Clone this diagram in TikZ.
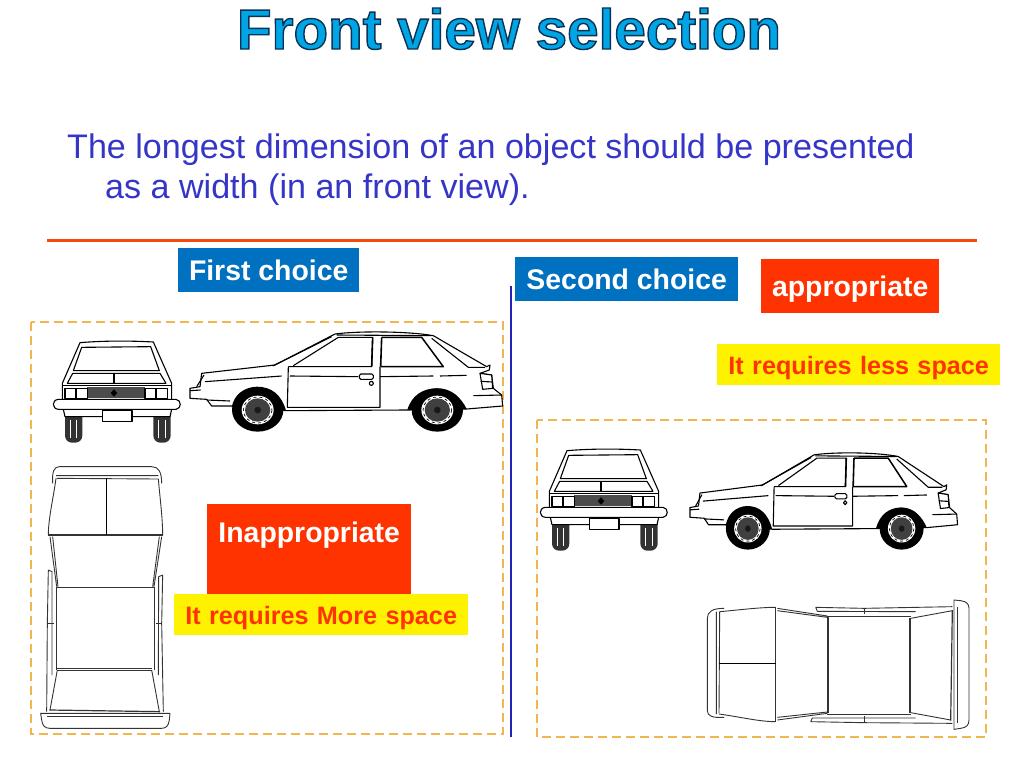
\documentclass[tikz,border=0pt]{standalone}
\usepackage{fontspec}
\setmainfont{Liberation Sans}
\definecolor{titleblue}{HTML}{00A5E6}
\definecolor{bodyblue}{HTML}{3535C8}
\definecolor{boxblue}{HTML}{0070C0}
\definecolor{boxred}{HTML}{FF3300}
\definecolor{ruleorange}{HTML}{F5480A}
\definecolor{dashorange}{HTML}{F2B552}
\definecolor{splitblue}{HTML}{2222B8}
\newcommand{\outlined}[1]{\special{pdf:code q 2 Tr 1.4 w 0.05 0.2 0.33 RG 0 0.647 0.9 rg}#1\special{pdf:code Q}}
\tikzset{
    carline/.style = {line width=1.1pt, black, line join=round},
    thinline/.style = {line width=0.7pt, black},
    topline/.style = {line width=0.9pt, black!80, line join=round},
    viewframe/.style = {draw=dashorange, line width=1.2pt, dash pattern=on 9pt off 5pt},
    bluebox/.style = {fill=boxblue, text=white, font=\fontsize{28.4}{28.4}\selectfont\bfseries, inner sep=0pt, anchor=north west},
    redbox/.style = {fill=boxred, text=white, font=\fontsize{28.4}{28.4}\selectfont\bfseries, inner sep=0pt, anchor=north west, align=center},
    yellowbox/.style = {fill=yellow, text=boxred, font=\fontsize{25.2}{25.2}\selectfont\bfseries, inner sep=0pt, anchor=north west, align=center},
    frontcar/.pic = {
        \fill [black!80, rounded corners=7pt] (105,270) rectangle (157,368) (370,270) rectangle (422,368);
        \draw [white, line width=0.4pt] (120,300) -- (120,355) (140,300) -- (140,355) (385,300) -- (385,355) (405,300) -- (405,355);
        \draw [carline, fill=white] (150,68) .. controls (220,62) and (300,62) .. (370,66) -- (425,190) -- (425,240) -- (97,240) -- (97,190) -- cycle;
        \draw [carline] (155,82) -- (362,80) -- (388,152) -- (130,152) -- cycle;
        \draw [carline] (112,190) -- (128,160) -- (390,160) -- (408,190) -- cycle;
        \draw [carline] (252,160) -- (252,190);
        \draw [carline] (97,196) -- (425,196);
        \fill [black!70] (172,202) rectangle (345,235);
        \fill [black] (252,208) -- (262,219) -- (252,230) -- (242,219) -- cycle;
        \draw [carline, fill=white] (105,205) rectangle (138,235) (140,205) rectangle (172,235);
        \draw [carline, fill=white] (345,205) rectangle (378,235) (380,205) rectangle (413,235);
        \draw [carline, fill=white] (100,268) -- (105,290) -- (420,290) -- (425,268);
        \draw [carline, fill=white] (85,238) -- (438,238) .. controls (455,240) and (455,266) .. (438,268) -- (85,268) .. controls (65,266) and (65,240) .. (85,238) -- cycle;
        \draw [carline, fill=white] (218,272) rectangle (306,304);
    },
    sidecar/.pic = {
        \draw [carline, fill=white] (480,205) -- (510,200) -- (515,160) -- (735,135) -- (915,42) .. controls (980,33) and (1130,33) .. (1210,47) -- (1370,140) -- (1380,135) -- (1378,150) -- (1350,160) -- (1385,165) -- (1390,205) -- (1415,225) -- (1418,258) -- (1310,267) -- (1132,270) -- (770,272) -- (605,258) -- (545,258) -- (530,238) -- (480,235) -- cycle;
        \fill [black] (605,262) .. controls (612,225) and (640,202) .. (680,200) .. controls (725,200) and (755,225) .. (768,272) -- cycle;
        \fill [black] (1132,270) .. controls (1145,225) and (1180,205) .. (1220,205) .. controls (1265,205) and (1295,235) .. (1310,267) -- cycle;
        \foreach \wheelx in {683,1222} {
            \fill [black] (\wheelx,270) ellipse (77 and 65);
            \fill [white] (\wheelx,270) ellipse (48 and 43);
            \fill [black!75] (\wheelx,270) ellipse (38 and 35);
            \draw [thinline, dashed] (\wheelx,270) ellipse (43 and 39);
            \fill [black!90] (\wheelx,270) circle (10);
        }
        \draw [carline] (728,138) -- (905,50) (790,137) -- (925,52) -- (1028,52) -- (1025,140) -- (775,140);
        \draw [carline, line width=1.6pt] (1028,52) -- (1025,140) (1055,52) -- (1052,140);
        \draw [carline, line width=1.5pt] (1055,52) -- (1175,52) -- (1240,140) -- (1052,140);
        \draw [carline] (920,45) -- (1205,47);
        \draw [carline] (1205,55) -- (1315,142) -- (1365,142);
        \draw [carline] (775,140) -- (772,262) -- (1050,262) -- (1050,140);
        \draw [carline] (525,185) -- (755,168) (780,168) -- (985,170) (1050,170) -- (1210,168) (1230,168) -- (1310,166);
        \draw [carline] (500,200) -- (522,165);
        \draw [carline, fill=white, rounded corners=1.5pt] (988,162) rectangle (1030,178);
        \draw [carline] (1024,190) circle (6);
        \draw [carline, fill=white] (1350,160) -- (1385,165) -- (1388,205) -- (1358,208) -- cycle;
        \draw [carline] (1352,184) -- (1387,186);
        \draw [carline] (1330,227) -- (1415,225);
        \draw [carline] (480,212) -- (512,210) (530,240) -- (600,243);
    },
    topcar/.pic = {
        \draw [topline, fill=white] (68,85) .. controls (66,50) and (72,35) .. (88,35) -- (365,35) .. controls (385,35) and (395,50) .. (395,85);
        \draw [topline] (78,62) -- (385,62) (80,70) -- (385,72);
        \draw [topline] (78,70) .. controls (70,130) and (55,190) .. (55,240) (385,72) .. controls (390,130) and (398,190) .. (398,240);
        \draw [topline, line width=1.4pt] (55,240) -- (398,240);
        \draw [thinline] (230,70) -- (230,240);
        \draw [topline] (60,245) -- (80,395) (68,245) -- (84,395) (395,245) -- (372,395) (388,245) -- (368,395);
        \draw [topline, line width=1.2pt] (80,397) -- (372,397);
        \draw [topline] (82,645) -- (365,645) (82,640) -- (365,640);
        \draw [topline] (78,395) -- (78,645) (372,395) -- (372,645);
        \draw [topline] (55,345) -- (66,350) -- (66,660) (55,345) -- (52,505) -- (50,770);
        \draw [topline] (398,360) -- (386,365) -- (385,660) (398,360) -- (395,505) -- (400,770);
        \draw [topline] (52,505) -- (72,505) (378,505) -- (396,505);
        \draw [topline] (82,645) -- (60,765) (365,645) -- (388,770);
        \draw [topline, line width=1.2pt] (58,765) -- (390,770);
        \draw [topline, fill=white] (32,775) -- (420,775) -- (418,795) .. controls (416,812) and (408,820) .. (395,820) -- (60,820) .. controls (45,820) and (37,812) .. (35,795) -- cycle;
        \draw [topline] (52,785) -- (400,785);
    }
}
\begin{document}
\begin{tikzpicture}[x = 1pt, y = -1pt]
    \useasboundingbox (0,0) rectangle (1024,768);
    \node (title) [anchor=base, font=\fontsize{56.6}{56.6}\selectfont\bfseries, inner sep=0pt] at (509,49) {\outlined{Front view selection}};
    \node (intro) [anchor=base west, align=left, text=bodyblue, font=\fontsize{34.1}{40}\selectfont, inner sep=0pt] at (67,198) {The longest dimension of an object should be presented\\\hspace*{38pt}as a width (in an front view).};
    \coordinate (ruleA) at (47,240);
    \coordinate (ruleB) at (977,240);
    \draw [ruleorange, line width=3pt] (ruleA) -- (ruleB);
    \coordinate (splitA) at (511,286);
    \coordinate (splitB) at (511,737);
    \draw [splitblue, line width=2.5pt] (splitA) -- (splitB);
    \draw [viewframe] (31,322) rectangle (503,734);
    \draw [viewframe] (537,420) rectangle (986,737);
    \pic [scale=1/3] at (30,320) {frontcar};
    \pic [scale=1/3] at (30,320) {sidecar};
    \pic [scale=1/3] at (30,455) {topcar};
    \pic [scale=1/3] at (517,428) {frontcar};
    \pic [xscale=0.2853, yscale=0.3233] at (553,441.3) {sidecar};
    \pic [shift={(695.67,740)}, rotate=90, scale=1/3] at (0,0) {topcar};
    \node (first) [bluebox, minimum width=181pt, minimum height=44pt] at (178,248) {First choice};
    \node (second) [bluebox, minimum width=223pt, minimum height=44pt] at (515,257) {Second choice};
    \node (good) [redbox, text width=178pt, text height=37pt, text depth=17pt] at (761,259) {appropriate};
    \node (less) [yellowbox, text width=283pt, text height=30pt, text depth=11pt] at (717,344) {It requires less space};
    \node (bad) [redbox, text width=204pt, text height=38pt, text depth=52pt] at (207,504) {Inappropriate};
    \node (more) [yellowbox, text width=294pt, text height=30pt, text depth=11pt] at (174,594) {It requires More space};
\end{tikzpicture}
\end{document}
